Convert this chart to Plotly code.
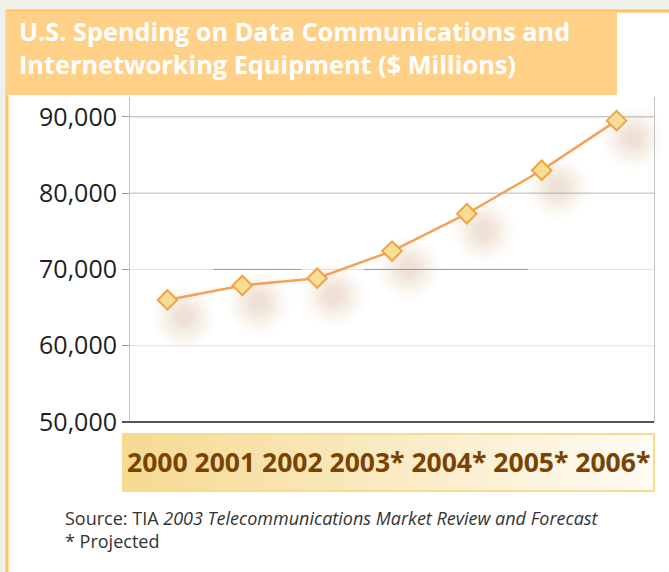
import plotly.graph_objects as go

# ---------------- data ----------------
years = ["2000", "2001", "2002", "2003*", "2004*", "2005*", "2006*"]
spending = [66000, 67900, 68850, 72400, 77300, 83000, 89500]
y_tick_values = [50000, 60000, 70000, 80000, 90000]
y_tick_labels = ["50,000", "60,000", "70,000", "80,000", "90,000"]
title_lines = ["U.S. Spending on Data Communications and",
               "Internetworking Equipment ($ Millions)"]
source_plain = "Source: TIA "
source_italic = "2003 Telecommunications Market Review and Forecast"
footnote = "* Projected"

# ---------------- layout geometry ----------------
W, H = 669, 572
L, R, T, B = 130, 15, 97, 150
pw, ph = W - L - R, H - T - B


def px(x):
    return (x - L) / pw


def py(y):
    return (H - B - y) / ph


idx = list(range(len(years)))
fig = go.Figure()

# soft drop shadows (layered translucent discs)
shadow_dx, shadow_dy = 0.22, -2250
layers = [(64, 0.02), (58, 0.025), (52, 0.03), (46, 0.03), (40, 0.035),
          (34, 0.035), (28, 0.035), (22, 0.035), (16, 0.035)]
for size, alpha in layers:
    fig.add_trace(go.Scatter(
        x=[i + shadow_dx for i in idx],
        y=[v + shadow_dy for v in spending],
        mode="markers",
        marker=dict(size=size, color=f"rgba(200,150,105,{alpha})", line=dict(width=0)),
        hoverinfo="skip", showlegend=False, cliponaxis=False,
    ))

fig.add_trace(go.Scatter(
    x=idx, y=spending, mode="lines+markers",
    line=dict(color="#f6a055", width=2.5),
    marker=dict(symbol="diamond", size=15, color="#f9dd97",
                line=dict(color="#f0a445", width=2)),
    showlegend=False, cliponaxis=False,
))

shapes = []
# page panel
shapes.append(dict(type="rect", xref="paper", yref="paper", x0=px(6), x1=px(W + 5),
                   y0=py(H + 5), y1=py(11), fillcolor="white", line=dict(width=0), layer="below"))
shapes.append(dict(type="line", xref="paper", yref="paper", x0=px(6), x1=px(W + 5),
                   y0=py(11), y1=py(11), line=dict(color="#ffc15e", width=3), layer="below"))
shapes.append(dict(type="line", xref="paper", yref="paper", x0=px(7), x1=px(7),
                   y0=py(H + 5), y1=py(11), line=dict(color="#fdc46c", width=3), layer="below"))
# title box
shapes.append(dict(type="rect", xref="paper", yref="paper", x0=px(6), x1=px(617),
                   y0=py(95), y1=py(11), fillcolor="#ffd188", line=dict(width=0), layer="below"))
# gridlines (upper ones stronger)
grid_colors = ["#e0e0e0", "#e0e0e0", "#e0e0e0", "#b8b8b8", "#b0b0b0"]
for v, gc in zip(y_tick_values[1:], grid_colors[1:]):
    shapes.append(dict(type="line", xref="paper", yref="y", x0=0, x1=1, y0=v, y1=v,
                       line=dict(color=gc, width=1), layer="below"))
# darker segments on the 70,000 gridline
for xa, xb in [(213, 301), (364, 528)]:
    shapes.append(dict(type="line", xref="paper", yref="y", x0=px(xa), x1=px(xb),
                       y0=y_tick_values[2], y1=y_tick_values[2],
                       line=dict(color="#9a9a9a", width=1), layer="below"))
# category label box with horizontal gradient
bx0, bx1, by0, by1 = 123, 654, 434, 491
n = 60
c0 = (246, 218, 146)
c1 = (253, 251, 243)
for k in range(n):
    t = k / (n - 1)
    c = tuple(round(c0[j] + (c1[j] - c0[j]) * t) for j in range(3))
    xa = bx0 + (bx1 - bx0) * k / n
    xb = bx0 + (bx1 - bx0) * (k + 1) / n + 0.6
    shapes.append(dict(type="rect", xref="paper", yref="paper", x0=px(xa), x1=px(xb),
                       y0=py(by1), y1=py(by0), fillcolor=f"rgb{c}", line=dict(width=0)))
shapes.append(dict(type="rect", xref="paper", yref="paper", x0=px(bx0), x1=px(bx1),
                   y0=py(by1), y1=py(by0), line=dict(color="#f8dc8e", width=2)))
# dark baseline
shapes.append(dict(type="line", xref="paper", yref="paper", x0=px(122), x1=px(654),
                   y0=0, y1=0, line=dict(color="#555555", width=2)))

annotations = [
    dict(xref="paper", yref="paper", x=px(17), y=py(47), xanchor="left", yanchor="middle",
         align="left", showarrow=False, text="<br>".join(title_lines),
         font=dict(family="Open Sans", size=25.3, color="white", weight="bold")),
    dict(xref="paper", yref="paper", x=px((bx0 + bx1) / 2), y=py(462), xanchor="center",
         yanchor="middle", showarrow=False, text=" ".join(years),
         font=dict(family="Open Sans", size=26.5, color="#7a4302", weight="bold")),
    dict(xref="paper", yref="paper", x=px(63), y=py(529), xanchor="left", yanchor="middle",
         align="left", showarrow=False,
         text=f"{source_plain}<i>{source_italic}</i><br>{footnote}",
         font=dict(family="Open Sans", size=18, color="#333333")),
]

fig.update_layout(
    width=W, height=H,
    margin=dict(l=L, r=R, t=T, b=B),
    paper_bgcolor="#eef2ea", plot_bgcolor="white",
    shapes=shapes, annotations=annotations,
    xaxis=dict(range=[-0.5, len(years) - 0.5], showticklabels=False, showgrid=False,
               zeroline=False, showline=False, ticks=""),
    yaxis=dict(range=[50000, 92600], tickvals=y_tick_values, ticktext=y_tick_labels,
               showline=True, linecolor="#c4c4c4", linewidth=1, mirror=True,
               ticks="outside", ticklen=7, tickcolor="#9a9a9a",
               showgrid=False, zeroline=False,
               tickfont=dict(family="Open Sans", size=25, color="#1e1e1e")),
)

fig.write_html(
    "out.html",
    config={"displayModeBar": False},
    post_script="document.body.style.margin='0';document.body.style.background='#eef2ea';",
)
